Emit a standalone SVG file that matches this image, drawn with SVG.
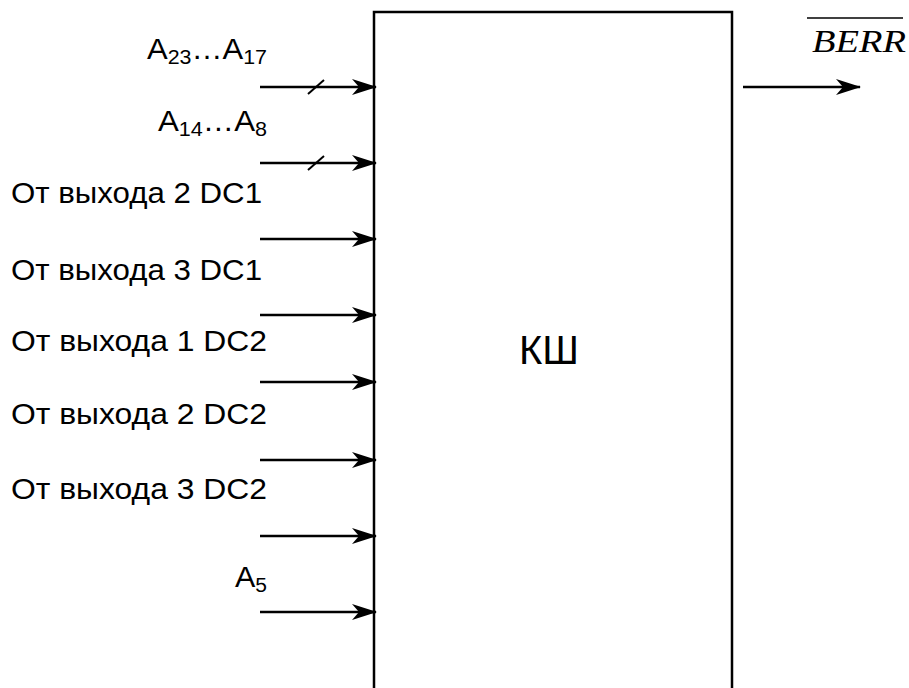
<svg xmlns="http://www.w3.org/2000/svg" width="909" height="688" viewBox="0 0 909 688">
<style>
.lbl{font-family:"Liberation Sans",Arial,sans-serif;font-size:29px;fill:#000}
.sub{font-size:20px}
.ln{stroke:#000;stroke-width:2.5;fill:none}
</style>
<defs>
<marker id="ah" markerUnits="userSpaceOnUse" markerWidth="28" markerHeight="18" refX="25" refY="8" orient="auto" viewBox="0 0 28 16">
<path d="M26,8 L1,0 L8,8 L1,16 Z" fill="#000"/>
</marker>
</defs>
<rect width="909" height="688" fill="#fff"/>
<g id="block">
<path d="M374,688 V12 H732 V688" fill="none" stroke="#000" stroke-width="2.5"/>
<text x="549" y="364" class="lbl" style="font-size:40px" text-anchor="middle">КШ</text>
</g>
<g id="labels">
<text class="lbl" x="147" y="59" textLength="120" lengthAdjust="spacingAndGlyphs">A<tspan class="sub" dy="5">23</tspan><tspan dy="-5">…A</tspan><tspan class="sub" dy="5">17</tspan></text>
<text class="lbl" x="158" y="131" textLength="109" lengthAdjust="spacingAndGlyphs">A<tspan class="sub" dy="5">14</tspan><tspan dy="-5">…A</tspan><tspan class="sub" dy="5">8</tspan></text>
<text class="lbl" x="11" y="203" textLength="251" lengthAdjust="spacingAndGlyphs">От выхода 2 DC1</text>
<text class="lbl" x="11" y="280" textLength="251" lengthAdjust="spacingAndGlyphs">От выхода 3 DC1</text>
<text class="lbl" x="11" y="351" textLength="256" lengthAdjust="spacingAndGlyphs">От выхода 1 DC2</text>
<text class="lbl" x="11" y="424" textLength="256" lengthAdjust="spacingAndGlyphs">От выхода 2 DC2</text>
<text class="lbl" x="11" y="499" textLength="256" lengthAdjust="spacingAndGlyphs">От выхода 3 DC2</text>
<text class="lbl" x="235" y="587" textLength="32" lengthAdjust="spacingAndGlyphs">A<tspan class="sub" dy="5">5</tspan></text>
<text x="812" y="52" textLength="94" lengthAdjust="spacingAndGlyphs" style="font-family:'Liberation Serif','Times New Roman',serif;font-style:italic;font-size:32px">BERR</text>
<line x1="807" y1="18" x2="903" y2="18" stroke="#000" stroke-width="1.5"/>
</g>
<g id="connectors">
<line class="ln" x1="260" y1="87" x2="376" y2="87" marker-end="url(#ah)"/>
<line class="ln" x1="260" y1="163" x2="376" y2="163" marker-end="url(#ah)"/>
<line class="ln" x1="260" y1="239" x2="376" y2="239" marker-end="url(#ah)"/>
<line class="ln" x1="260" y1="315" x2="376" y2="315" marker-end="url(#ah)"/>
<line class="ln" x1="260" y1="382" x2="376" y2="382" marker-end="url(#ah)"/>
<line class="ln" x1="260" y1="460" x2="376" y2="460" marker-end="url(#ah)"/>
<line class="ln" x1="260" y1="536" x2="376" y2="536" marker-end="url(#ah)"/>
<line class="ln" x1="260" y1="612" x2="376" y2="612" marker-end="url(#ah)"/>
<line class="ln" x1="743" y1="87" x2="860" y2="87" marker-end="url(#ah)"/>
<line x1="308" y1="94" x2="324" y2="80" stroke="#000" stroke-width="2"/>
<line x1="308" y1="170" x2="324" y2="156" stroke="#000" stroke-width="2"/>
</g>
</svg>
